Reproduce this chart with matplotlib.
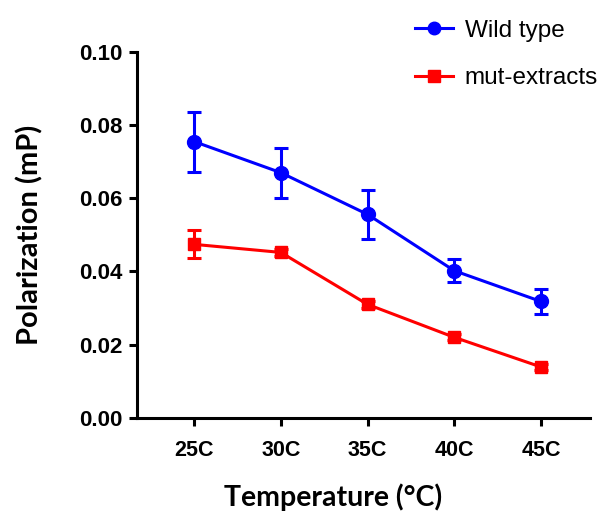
import numpy as np
import matplotlib.pyplot as plt

temps = ['25C', '30C', '35C', '40C', '45C']
wild = [0.0755, 0.0670, 0.0556, 0.0402, 0.0318]
wild_err = [0.0082, 0.0068, 0.0066, 0.0031, 0.0033]
mut = [0.0474, 0.0452, 0.0310, 0.0220, 0.0139]
mut_err = [0.0038, 0.0010, 0.0010, 0.0008, 0.0008]

x = np.arange(len(temps))

fig = plt.figure(figsize=(6.03, 5.19), dpi=100)
ax = fig.add_axes([0.227, 0.195, 0.752, 0.705])

ax.errorbar(x, wild, yerr=wild_err, color='#0000ff', lw=2.2, capsize=5, capthick=2.2,
            elinewidth=2.2, marker='o', ms=10, zorder=3)
ax.errorbar(x, mut, yerr=mut_err, color='#ff0000', lw=2.2, capsize=5, capthick=2.2,
            elinewidth=2.2, marker='s', ms=9, zorder=3)

ax.set_xlim(-0.66, 4.57)
ax.set_ylim(0, 0.10)
ax.set_xticks(x)
ax.set_xticklabels(temps)
ax.set_yticks(np.arange(0, 0.101, 0.02))
ax.set_yticklabels(['%.2f' % v for v in np.arange(0, 0.101, 0.02)])

for s in ['top', 'right']:
    ax.spines[s].set_visible(False)
for s in ['left', 'bottom']:
    ax.spines[s].set_linewidth(2.2)
ax.tick_params(width=2.2, length=6, direction='out', pad=4)
for lab in ax.get_xticklabels() + ax.get_yticklabels():
    lab.set_fontfamily('Liberation Sans')
    lab.set_fontweight('bold')
    lab.set_fontsize(15.5)
for lab in ax.get_yticklabels():
    lab.set_fontsize(16)
ax.tick_params(axis='x', pad=10)

ax.set_xlabel('Temperature (°C)', fontsize=20.5, fontweight='bold', family='Lato')
ax.set_ylabel('Polarization (mP)', fontsize=21, fontweight='bold', family='Lato')
ax.xaxis.set_label_coords(0.433, -0.216)
ax.xaxis.label.set_va('center')
ax.yaxis.set_label_coords(-0.236, 0.5)
ax.yaxis.label.set_va('center')

# legend sits above the plot, right side
h1 = plt.Line2D([], [], color='#0000ff', lw=2.2, marker='o', ms=9)
h2 = plt.Line2D([], [], color='#ff0000', lw=2.2, marker='s', ms=9)
fig.legend([h1, h2], ['Wild type', 'mut-extracts'], loc='upper left',
           bbox_to_anchor=(0.652, 1.004), frameon=False, handlelength=1.55,
           handletextpad=0.5, labelspacing=1.05,
           prop={'family': 'Liberation Sans', 'size': 17.5})

fig.savefig('out.png', dpi=100)
